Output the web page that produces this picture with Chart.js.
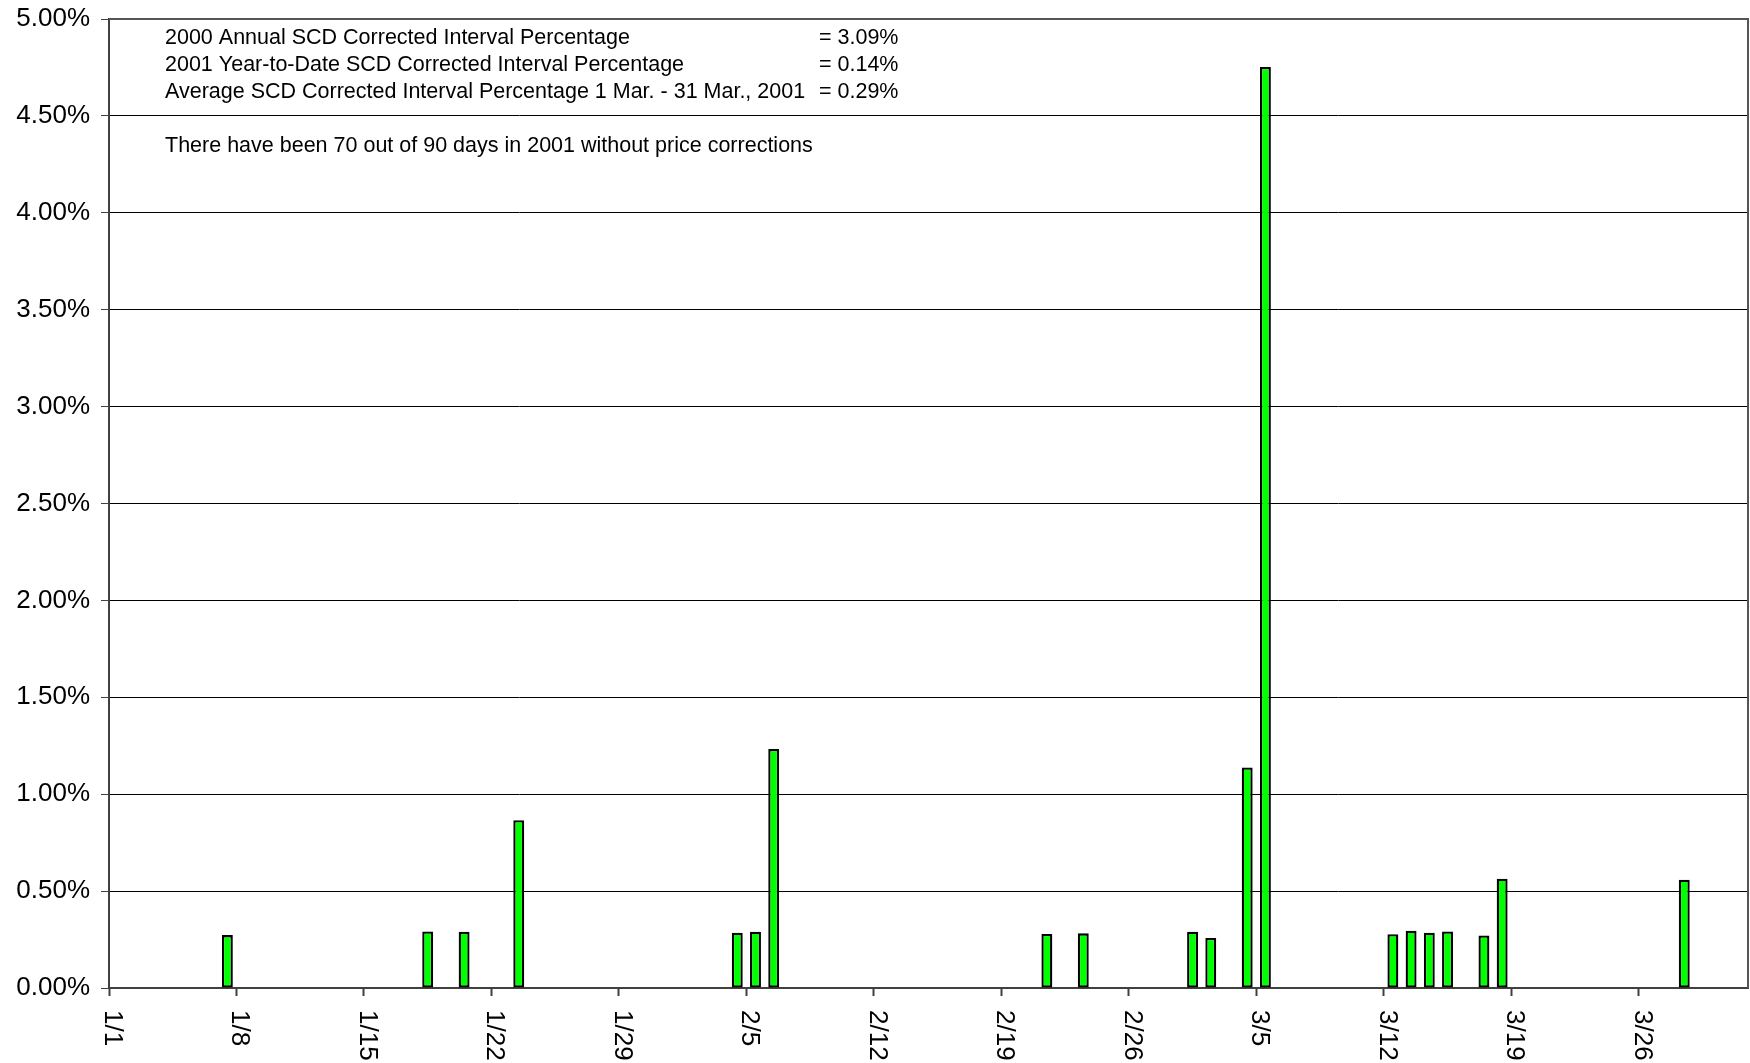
<!DOCTYPE html>
<html>
<head>
<meta charset="utf-8">
<script src="https://cdn.jsdelivr.net/npm/chart.js@4/dist/chart.umd.min.js"></script>
<style>
  body { margin: 0; background: #fff; }
  #chart-container { width: 1750px; height: 1063px; }
</style>
</head>
<body>
<div id="chart-container">
  <canvas id="myChart" width="1750" height="1063"></canvas>
</div>
<script>
// days with SCD corrected intervals, Jan 1 - Mar 31 2001
const corrDates = ['1/7', '1/18', '1/20', '1/23', '2/4', '2/5', '2/6', '2/21', '2/23', '3/1',
  '3/2', '3/4', '3/5', '3/12', '3/13', '3/14', '3/15', '3/17', '3/18', '3/28'];
const corrValues = [0.273, 0.292, 0.290, 0.866, 0.285, 0.290, 1.233, 0.279, 0.282, 0.290,
  0.258, 1.138, 4.752, 0.277, 0.296, 0.285, 0.292, 0.271, 0.564, 0.559];

const tickLabels = ['1/1', '1/8', '1/15', '1/22', '1/29', '2/5', '2/12', '2/19', '2/26', '3/5', '3/12', '3/19', '3/26'];

const noteLines = [
  ['2000 Annual SCD Corrected Interval Percentage', '= 3.09%'],
  ['2001 Year-to-Date SCD Corrected Interval Percentage', '= 0.14%'],
  ['Average SCD Corrected Interval Percentage 1 Mar. - 31 Mar., 2001', '= 0.29%']
];
const noteExtra = 'There have been 70 out of 90 days in 2001 without price corrections';

// all days of the quarter as categories
const monthDays = [31, 28, 31];
const days = [];
monthDays.forEach((n, m) => {
  for (let d = 1; d <= n; d++) days.push((m + 1) + '/' + d);
});
const values = days.map(d => {
  const i = corrDates.indexOf(d);
  return i >= 0 ? corrValues[i] : null;
});

const FONT = '"Liberation Sans", Arial, sans-serif';
const tickIdx = tickLabels.map(t => days.indexOf(t));

const overlay = {
  id: 'overlay',
  afterDraw(chart) {
    const { ctx, chartArea, scales } = chart;
    const x = scales.x;
    ctx.save();
    // plot frame (top + right)
    ctx.strokeStyle = '#555';
    ctx.lineWidth = 2;
    ctx.beginPath();
    ctx.moveTo(chartArea.left, chartArea.top);
    ctx.lineTo(chartArea.right, chartArea.top);
    ctx.lineTo(chartArea.right, chartArea.bottom);
    ctx.stroke();

    // rotated date labels at the tick marks
    const half = (x.getPixelForValue(1) - x.getPixelForValue(0)) / 2;
    ctx.fillStyle = '#000';
    ctx.font = '26px ' + FONT;
    ctx.textAlign = 'left';
    ctx.textBaseline = 'middle';
    tickIdx.forEach((idx, k) => {
      const px = x.getPixelForValue(idx) - half;
      ctx.save();
      ctx.translate(px + 3, chartArea.bottom + 22);
      ctx.rotate(Math.PI / 2);
      ctx.fillText(tickLabels[k], 0, 0);
      ctx.restore();
    });

    // text notes
    ctx.font = '21.5px ' + FONT;
    ctx.textBaseline = 'middle';
    const lx = chartArea.left + 56;
    noteLines.forEach((ln, i) => {
      const y = chartArea.top + 19 + i * 27;
      ctx.fillText(ln[0], lx, y);
      ctx.fillText(ln[1], chartArea.left + 710, y);
    });
    ctx.fillText(noteExtra, lx, chartArea.top + 127);
    ctx.restore();
  }
};

new Chart(document.getElementById('myChart'), {
  type: 'bar',
  data: {
    labels: days,
    datasets: [{
      label: 'SCD Corrected Interval Percentage',
      data: values,
      backgroundColor: '#00ff00',
      borderColor: '#000',
      borderWidth: 2.3,
      borderSkipped: false,
      categoryPercentage: 1,
      barPercentage: 0.6
    }]
  },
  options: {
    responsive: false,
    animation: false,
    devicePixelRatio: 1,
    layout: { padding: { top: 19, right: 2, left: 0, bottom: 0 } },
    plugins: { legend: { display: false }, tooltip: { enabled: false } },
    scales: {
      x: {
        offset: true,
        grid: {
          offset: true,
          drawOnChartArea: false,
          tickLength: 8,
          tickColor: c => (c.index !== undefined && c.index % 7 === 0) ? '#404040' : 'transparent',
          tickWidth: 2
        },
        border: { color: '#404040', width: 2 },
        ticks: { display: false, autoSkip: false },
        afterFit: s => { s.height = 75; s.paddingLeft = 0; s.paddingRight = 0; }
      },
      y: {
        min: 0,
        max: 5,
        ticks: {
          stepSize: 0.5,
          color: '#000',
          padding: 11,
          font: { family: FONT, size: 26 },
          callback: v => v.toFixed(2) + '%'
        },
        grid: { color: '#000', lineWidth: 1, tickLength: 8, tickColor: '#404040' },
        border: { color: '#404040', width: 2 },
        afterFit: s => { s.width = 109; s.paddingTop = 0; s.paddingBottom = 0; }
      }
    }
  },
  plugins: [overlay]
});
</script>
</body>
</html>
